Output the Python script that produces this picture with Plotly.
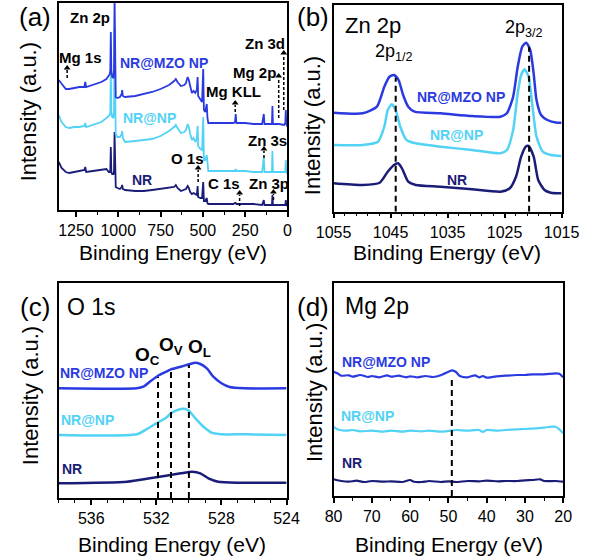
import plotly.graph_objects as go

W, H = 600, 557
def fx(p): return p / W
def fy(p): return 1 - p / H

C_MZO = "#2a3ae0"
C_NP = "#52d2f5"
C_NR = "#1b1c78"
FONT = "Liberation Sans, Arial, Helvetica, sans-serif"

# ---------------- (a) survey ----------------
a_energy = [1352, 1335, 1310, 1290, 1260, 1230, 1200, 1195, 1190, 1150, 1100, 1070, 1056, 1050, 1047,
            1044, 1041, 1036, 1028, 1025, 1022, 1019, 1015, 1005, 990, 980, 977, 973, 960, 900, 850,
            800, 750, 700, 670, 660, 650, 630, 610, 600, 590, 583, 575, 565, 555, 545, 536, 531, 528,
            515, 505, 498, 494, 486, 477, 473, 468, 400, 320, 310, 306, 302, 250, 200, 150, 140, 136,
            100, 92, 89, 86, 50, 20, 13, 10, 7, 0]
a_mzo = [130, 126, 121, 121, 122, 123, 123, 128, 123, 125, 128, 131, 134, 136, 140,
         178, 140, 133, 132, 140, 215, 125, 113, 112, 113, 116, 120, 114, 113, 114, 116,
         118, 121, 125, 129, 131, 128, 124, 125, 127, 133, 130, 124, 117, 119, 117, 120, 133, 114,
         110, 108, 141, 100, 98, 106, 92, 87, 87, 87, 88, 96, 87, 87, 86, 86, 96, 86,
         86, 86, 104, 86, 86, 85, 87, 100, 86, 83]
a_np = [95, 88, 83, 82, 83, 83, 84, 87, 83, 85, 88, 92, 94, 95, 98,
        140, 98, 93, 92, 100, 183, 90, 76, 73, 73, 76, 79, 72, 68, 69, 70,
        71, 74, 79, 83, 85, 82, 77, 78, 80, 86, 83, 76, 70, 72, 68, 71, 84, 64,
        61, 60, 93, 50, 50, 55, 42, 39, 39, 39, 39, 41, 39, 39, 38, 38, 53, 38,
        38, 38, 59, 38, 38, 38, 38, 50, 38, 36]
a_nr = [48, 42, 38, 37, 38, 39, 40, 43, 38, 39, 40, 41, 38, 38, 40,
        63, 38, 36, 36, 40, 78, 30, 23, 22, 21, 23, 25, 21, 20, 19, 19,
        20, 21, 22, 23, 25, 22, 19, 20, 21, 24, 22, 18, 16, 17, 16, 15, 24, 13,
        12, 12, 28, 9, 9, 12, 7, 6, 6, 6, 7, 7, 6, 6, 6, 5, 10, 5,
        5, 5, 15, 5, 5, 5, 5, 10, 5, 4]
a_arrow_energy = [1302, 309, 22, 52, 139, 528, 283, 83]
a_arrow_base = [132, 98, 100, 92, 52, 28, 4, 10]
a_arrow_tip = [142, 107, 157, 134, 61, 42, 17, 18]

# ---------------- (b) Zn 2p ----------------
b_mzo_energy = [1055, 1049.9, 1047.4, 1046.1, 1045.2, 1044.4, 1043.6, 1042.8, 1041.9, 1040.8, 1036.2,
                1030.7, 1025.7, 1024.6, 1023.5, 1022.7, 1021.9, 1021.2, 1020.5, 1019.9, 1019.4,
                1018.6, 1017.5, 1015.8, 1015]
b_mzo = [99, 98.4, 105, 125, 135, 136.7, 131.7, 116.7, 105, 100, 98.4, 95.7, 95, 98.4, 115, 145, 165,
         169, 161.7, 138, 111.7, 96.7, 91.7, 89, 89]
b_np_energy = [1055, 1049.9, 1047.2, 1046.1, 1045.5, 1044.8, 1044.1, 1043.3, 1042.2, 1040.6, 1036.2,
               1030.7, 1025.7, 1024.6, 1023.5, 1022.7, 1022.1, 1021.5, 1020.8, 1020.1, 1019.4,
               1018.3, 1016.9, 1015]
b_np = [66.7, 66.7, 70, 85, 101.7, 107.4, 101.7, 85, 71.7, 68.4, 65, 61.7, 58.4, 61.7, 81.7, 118.4,
        136.7, 142.4, 135, 105, 75, 60, 56.7, 55.7]
b_nr_energy = [1055, 1049.9, 1046.9, 1045.5, 1044.4, 1043.7, 1043.0, 1041.9, 1040.6, 1036.2, 1030.7,
               1025.7, 1024.1, 1023.0, 1022.1, 1021.3, 1020.8, 1019.9, 1019.1, 1018.0, 1016.9, 1015]
b_nr = [28.4, 26.7, 29, 40, 46.7, 48.4, 43.4, 30, 26.7, 25, 22.4, 20, 23.4, 35, 55, 65, 65.7, 55,
        31.7, 21.7, 19, 18.4]
b_mark_energy = [1044.1, 1020.7]
b_mark_top = [134, 165]

# ---------------- (c) O 1s ----------------
c_mzo_energy = [538, 533.2, 532.8, 532.4, 531.9, 531.4, 531.1, 530.5, 530.0, 529.6, 529.3, 528.9,
                528.5, 528.0, 527.5, 526.6, 524]
c_mzo = [109.7, 109.7, 111.3, 116.3, 122.3, 126.3, 128.7, 131.3, 133.7, 135.3, 134, 129.7, 121.3,
         114.7, 111, 109.7, 109.7]
c_np_energy = [538, 533.2, 532.6, 532.0, 531.4, 531.1, 530.7, 530.3, 530.0, 529.6, 529.1, 528.6,
               528.0, 526.6, 524]
c_np = [63, 63.7, 68.7, 74.7, 80.3, 84.7, 88, 89.3, 87.3, 79.7, 71.3, 65.3, 63.7, 63.7, 63]
c_nr_energy = [538, 533.8, 532.4, 531.4, 530.5, 529.8, 529.3, 528.8, 528.2, 527.0, 524]
c_nr = [14.7, 16.3, 19.7, 22.3, 24.7, 26.3, 24.7, 19.7, 16.3, 15.3, 15.3]
c_mark_energy = [531.9, 531.1, 530.0]
c_mark_top = [121, 127, 133]

# ---------------- (d) Mg 2p ----------------
d_mzo_energy = [80, 79, 78, 76, 75, 73, 71, 70, 68, 66, 65, 63, 61, 60, 58, 56, 54, 52, 50, 49, 48,
                47, 45, 43, 42, 41, 40, 38, 35, 32, 30, 28, 25, 22, 21, 20]
d_mzo = [124.3, 122.7, 120.3, 120.7, 119.3, 121, 119, 120, 118.7, 120.7, 119.3, 120.3, 118.7, 119.7,
         118.7, 120, 119, 120.7, 124.3, 125.7, 124, 120, 118.7, 120.7, 118.7, 120, 118.3, 119.3,
         120.3, 121, 121, 121.7, 121.7, 122.7, 122.3, 118.7]
d_np_energy = [80, 79, 77, 75, 73, 70, 67, 65, 62, 60, 57, 55, 52, 50, 48, 45, 42, 41, 40, 37, 35,
               32, 30, 27, 25, 23, 22, 21, 20]
d_np = [69.3, 66.7, 65.3, 66, 64.7, 65.3, 64.3, 65.3, 64.3, 65.3, 64.7, 65.3, 64.3, 65, 66, 65.3, 66,
        64, 66, 65.3, 66, 66.7, 67, 67.7, 68.3, 69.3, 69.3, 66.7, 62.7]
d_nr_energy = [80, 78, 76, 74, 72, 70, 67, 65, 62, 60, 59, 57, 55, 52, 50, 48, 45, 42, 40, 37, 35,
               32, 30, 28, 26, 25, 22, 20]
d_nr = [16.7, 15, 14.3, 15.3, 14, 15, 14.3, 14.7, 14, 16, 14.3, 14, 15, 14, 14.7, 14, 15, 14.7, 15.3,
        14.7, 15, 15, 15.7, 16, 16.7, 15, 15, 14.3]
d_mark_energy = [49.1]
d_mark_top = [116]

fig = go.Figure()

def add(xa, ya, x, y, color, width, shape="linear"):
    fig.add_trace(go.Scatter(x=x, y=y, xaxis=xa, yaxis=ya, mode="lines",
                             line=dict(color=color, width=width, shape=shape, smoothing=0.6),
                             hoverinfo="skip", showlegend=False))

add("x", "y", a_energy, a_nr, C_NR, 1.8)
add("x", "y", a_energy, a_np, C_NP, 1.8)
add("x", "y", a_energy, a_mzo, C_MZO, 1.8)
add("x2", "y2", b_nr_energy, b_nr, C_NR, 2.5, "spline")
add("x2", "y2", b_np_energy, b_np, C_NP, 2.5, "spline")
add("x2", "y2", b_mzo_energy, b_mzo, C_MZO, 2.5, "spline")
add("x3", "y3", c_nr_energy, c_nr, C_NR, 2.5, "spline")
add("x3", "y3", c_np_energy, c_np, C_NP, 2.5, "spline")
add("x3", "y3", c_mzo_energy, c_mzo, C_MZO, 2.5, "spline")
add("x4", "y4", d_nr_energy, d_nr, C_NR, 2.2, "spline")
add("x4", "y4", d_np_energy, d_np, C_NP, 2.2, "spline")
add("x4", "y4", d_mzo_energy, d_mzo, C_MZO, 2.2, "spline")

# arrow heads for the survey peak markers
fig.add_trace(go.Scatter(x=a_arrow_energy, y=a_arrow_tip, xaxis="x", yaxis="y", mode="markers",
                         marker=dict(symbol="triangle-up", size=6, color="black"),
                         hoverinfo="skip", showlegend=False, cliponaxis=False))

def xax(left, right, rng, dtick, tick0, mdtick, anchor):
    return dict(domain=[fx(left), fx(right)], range=rng, anchor=anchor, dtick=dtick, tick0=tick0,
                ticks="outside", ticklen=5, tickwidth=1.5, tickcolor="black",
                showline=True, linecolor="black", linewidth=1.5, mirror=True,
                showgrid=False, zeroline=False,
                tickfont=dict(family=FONT, size=16, color="black"),
                minor=dict(dtick=mdtick, tick0=tick0, ticks="outside", ticklen=3, tickwidth=1.2,
                           tickcolor="black", showgrid=False))

def yax(top, bottom, rng, anchor):
    return dict(domain=[fy(bottom), fy(top)], range=rng, anchor=anchor, showticklabels=False,
                ticks="", showline=True, linecolor="black", linewidth=1.5, mirror=True,
                showgrid=False, zeroline=False)

fig.update_layout(
    width=W, height=H, margin=dict(l=0, r=0, t=0, b=0),
    paper_bgcolor="white", plot_bgcolor="white", showlegend=False,
    xaxis=xax(43.3, 286.7, [1352, 0], 250, 0, 125, "y"),
    yaxis=yax(3, 210, [0, 207], "x"),
    xaxis2=xax(335.7, 578.3, [1055, 1015], 10, 1015, 2, "y2"),
    yaxis2=yax(5, 211.7, [0, 206.7], "x2"),
    xaxis3=xax(43.3, 285.7, [538, 524], 4, 524, 1, "y3"),
    yaxis3=yax(283, 498, [0, 215], "x3"),
    xaxis4=xax(335.7, 580, [80, 20], 10, 20, 5, "y4"),
    yaxis4=yax(283, 496, [0, 213], "x4"),
)

shapes = []
annotations = []

def dashed(xr, yr, x, y0, y1, dash="6px,4px", width=2):
    shapes.append(dict(type="line", xref=xr, yref=yr, x0=x, x1=x, y0=y0, y1=y1,
                       line=dict(color="black", width=width, dash=dash)))

for e, b0, t in zip(a_arrow_energy, a_arrow_base, a_arrow_tip):
    dashed("x", "y", e, b0, t - 2, dash="3px,2px", width=1.5)
for e, t in zip(b_mark_energy, b_mark_top):
    dashed("x2", "y2", e, 0, t)
for e, t in zip(c_mark_energy, c_mark_top):
    dashed("x3", "y3", e, 0, t)
for e, t in zip(d_mark_energy, d_mark_top):
    dashed("x4", "y4", e, 0, t)

def label(text, x, y, size, color="black", xanchor="center", angle=0):
    annotations.append(dict(text=text, x=fx(x), y=fy(y), xref="paper", yref="paper",
                            xanchor=xanchor, yanchor="middle", showarrow=False, textangle=angle,
                            font=dict(family=FONT, size=size, color=color)))

# panel letters & titles
for t, x, y in [("(a)", 18, 17), ("(b)", 314, 17), ("(c)", 18, 307), ("(d)", 314, 307)]:
    label(t, x, y, 26)
for x, y in [(165, 252), (456, 252), (164, 544), (458, 544)]:
    label("Binding Energy (eV)", x, y, 21)
for x, y in [(11, 112), (313, 126), (13, 396), (315, 393)]:
    label("Intensity (a.u.)", x, y, 22, angle=-90)

# (a)
for t, x, y in [("Zn 2p", 77, 18), ("Mg 1s", 67, 58), ("Mg KLL", 229, 91), ("Zn 3d", 263, 43),
                ("Mg 2p", 252, 72), ("Zn 3s", 265, 140), ("O 1s", 180, 159), ("C 1s", 219, 183),
                ("Zn 3p", 267, 183)]:
    label("<b>%s</b>" % t, x, y, 15)
label("<b>NR@MZO NP</b>", 155, 63, 14, C_MZO)
label("<b>NR@NP</b>", 140, 118, 14, C_NP)
label("<b>NR</b>", 132, 180, 14, C_NR)

# (b)
label("Zn 2p", 346, 25, 22, xanchor="left")
label("2p<sub>1/2</sub>", 400, 53, 18)
label("2p<sub>3/2</sub>", 538, 29, 18)
label("<b>NR@MZO NP</b>", 471, 97, 14, C_MZO)
label("<b>NR@NP</b>", 467, 135, 14, C_NP)
label("<b>NR</b>", 467, 180, 14, C_NR)

# (c)
label("O 1s", 50, 307, 23, xanchor="left")
label("<b>O<sub>C</sub></b>", 138, 356, 19)
label("<b>O<sub>V</sub></b>", 163, 346, 19)
label("<b>O<sub>L</sub></b>", 193, 348, 19)
label("<b>NR@MZO NP</b>", 92, 373, 14, C_MZO)
label("<b>NR@NP</b>", 74, 420, 14, C_NP)
label("<b>NR</b>", 57, 469, 14, C_NR)

# (d)
label("Mg 2p", 346, 306, 23, xanchor="left")
label("<b>NR@MZO NP</b>", 391, 362, 14, C_MZO)
label("<b>NR@NP</b>", 372, 416, 14, C_NP)
label("<b>NR</b>", 355, 463, 14, C_NR)

fig.update_layout(shapes=shapes, annotations=annotations)
fig.write_html("out.html", config={"displayModeBar": False},
               post_script="document.body.style.margin='0';")
